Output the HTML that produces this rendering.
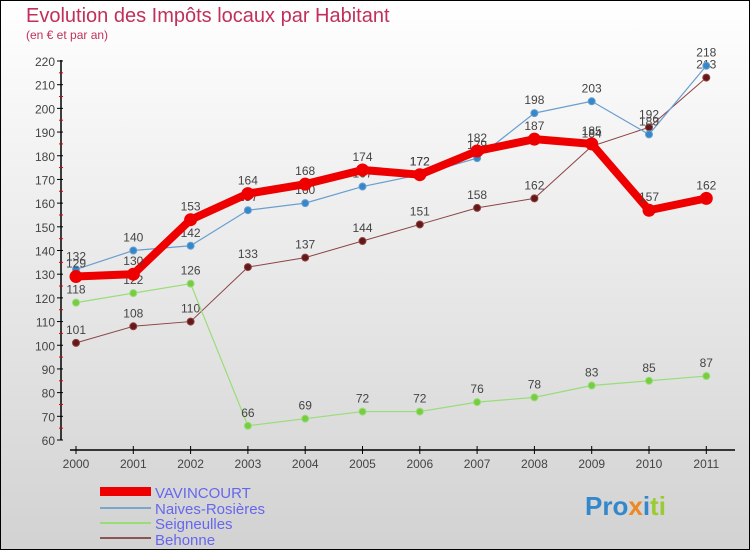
<!DOCTYPE html>
<html><head><meta charset="utf-8"><style>
body{margin:0;width:750px;height:550px;overflow:hidden;font-family:"Liberation Sans",sans-serif}
#wrap{position:absolute;left:0;top:0;width:748px;height:548px;border:1px solid #000;background:linear-gradient(#ffffff,#d2d2d2)}
</style></head><body>
<div id="wrap">
<svg id="chart" width="750" height="550" style="position:absolute;left:-1px;top:-1px">
<text x="26" y="22" font-size="20" fill="#c0305a">Evolution des Impôts locaux par Habitant</text>
<text x="26" y="39" font-size="12" fill="#c0305a">(en € et par an)</text>
<g id="axes"></g><g id="series"></g>
<g id="legend">
<rect x="100" y="487" width="51" height="9" fill="#e00"/>
<text x="155" y="498" font-size="15" fill="#6666ee">VAVINCOURT</text>
<rect x="100" y="507" width="51" height="2" fill="#7aa6cc"/>
<text x="155" y="514" font-size="15" fill="#6666ee">Naives-Rosières</text>
<rect x="100" y="522" width="51" height="2" fill="#99dd77"/>
<text x="155" y="529" font-size="15" fill="#6666ee">Seigneulles</text>
<rect x="100" y="537" width="51" height="2" fill="#8a5555"/>
<text x="155" y="545" font-size="15" fill="#6666ee">Behonne</text>
</g>
<text x="585" y="515" font-size="26" font-weight="bold" fill="#3388cc">Pro<tspan fill="#ee8822">x</tspan><tspan fill="#3388cc">i</tspan><tspan fill="#99cc33">ti</tspan></text>
</svg>
</div>
<script>
const years=["2000","2001","2002","2003","2004","2005","2006","2007","2008","2009","2010","2011"];
const vavincourt=[129,130,153,164,168,174,172,182,187,185,157,162];
const naives=[132,140,142,157,160,167,172,179,198,203,189,218];
const seigneulles=[118,122,126,66,69,72,72,76,78,83,85,87];
const behonne=[101,108,110,133,137,144,151,158,162,184,192,213];
const yTicks=[60,70,80,90,100,110,120,130,140,150,160,170,180,190,200,210,220];
const NS="http://www.w3.org/2000/svg";
const X=i=>76+i*57.3, Y=v=>440-(v-60)*(379/160);
function mk(p,tag,a){const e=document.createElementNS(NS,tag);for(const k in a)e.setAttribute(k,a[k]);p.appendChild(e);return e;}
const ax=document.getElementById('axes');
let l=mk(ax,'line',{x1:61,y1:Y(220)-1,x2:61,y2:440,stroke:'#000','stroke-width':1.5});


yTicks.forEach(v=>{
 mk(ax,'line',{x1:57,x2:63,y1:Y(v),y2:Y(v),stroke:'#000'});
 if(v<220)mk(ax,'line',{x1:59,x2:63,y1:Y(v+5),y2:Y(v+5),stroke:'#d00'});
 const t=mk(ax,'text',{x:55,y:Y(v)+5,'text-anchor':'end','font-size':12,fill:'#444'});t.textContent=v;
 
 
});
l=mk(ax,'line',{x1:70,x2:735,y1:450,y2:450,stroke:'#000','stroke-width':1.5});


years.forEach((y,i)=>{
 mk(ax,'line',{x1:X(i),x2:X(i),y1:446,y2:454,stroke:'#000'});
 const t=mk(ax,'text',{x:X(i),y:468,'text-anchor':'middle','font-size':12,fill:'#444'});t.textContent=y;
 
 
});
const sg=document.getElementById('series');
function series(name,data,color,w,r,dot){
 const g=mk(sg,'g',{});
 
 
 mk(g,'polyline',{points:data.map((v,i)=>X(i)+','+Y(v)).join(' '),fill:'none',stroke:color,'stroke-width':w,'stroke-linejoin':'round'});
 data.forEach((v,i)=>{
  const c=mk(g,'circle',{cx:X(i),cy:Y(v),r:r,fill:dot,stroke:color});
  
  
  const t=mk(g,'text',{x:X(i),y:Y(v)-9,'text-anchor':'middle','font-size':12,fill:'#444'});t.textContent=v;
  
  
 });
}
series('behonne',behonne,'#8a4444',1,3.5,'#661818');
series('seigneulles',seigneulles,'#99dd77',1.2,3.5,'#77cc44');
series('naives',naives,'#6a9ecf',1.2,3.5,'#3388cc');
series('vavincourt',vavincourt,'#ee0000',8,6,'#ee0000');
</script>
</body></html>
